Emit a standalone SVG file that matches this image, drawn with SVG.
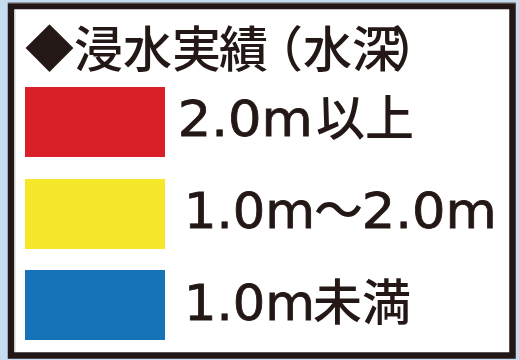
<svg xmlns="http://www.w3.org/2000/svg" width="519" height="360" viewBox="0 0 519 360">
<style>
.cjk{font-family:"Noto Sans CJK JP","Noto Sans CJK SC",sans-serif;font-weight:500;fill:#231815}
.num{font-family:"DejaVu Sans","Noto Sans CJK JP",sans-serif;font-size:50px;fill:#231815;stroke:#231815;stroke-width:0.8px}
.t{font-size:49px}
.l{font-size:49px}
</style>
<rect x="0" y="0" width="519" height="360" fill="#c6dcf0"/>
<g id="frame">
<rect x="11" y="6" width="501.5" height="349.5" fill="#ffffff" stroke="#231815" stroke-width="6.5"/>
<line x1="8" y1="3" x2="516" y2="3" stroke="#8a8a8a" stroke-width="1"/>
<line x1="15" y1="10" x2="15" y2="352" stroke="#d0d0d0" stroke-width="1"/>
</g>
<g id="title">
<text class="cjk t" y="67" x="25 74 123 172 219 254 303 352 392">◆浸水実績（水深）</text>
</g>
<g id="row-red">
<rect x="25" y="87" width="140" height="70" fill="#d91f27"/>
<text class="num" x="177.7" y="136" textLength="135" lengthAdjust="spacingAndGlyphs">2.0m</text>
<text class="cjk l" x="316" y="136">以上</text>
</g>
<g id="row-yellow">
<rect x="25" y="179" width="140" height="70" fill="#f7e72a"/>
<text class="num" x="184" y="228" textLength="131" lengthAdjust="spacingAndGlyphs">1.0m</text>
<text class="cjk l" x="314" y="228">～</text>
<text class="num" x="361.7" y="228" textLength="135" lengthAdjust="spacingAndGlyphs">2.0m</text>
</g>
<g id="row-blue">
<rect x="25" y="270" width="140" height="70" fill="#1673b8"/>
<text class="num" x="184" y="320" textLength="131" lengthAdjust="spacingAndGlyphs">1.0m</text>
<text class="cjk l" x="313" y="320">未満</text>
</g>
</svg>
